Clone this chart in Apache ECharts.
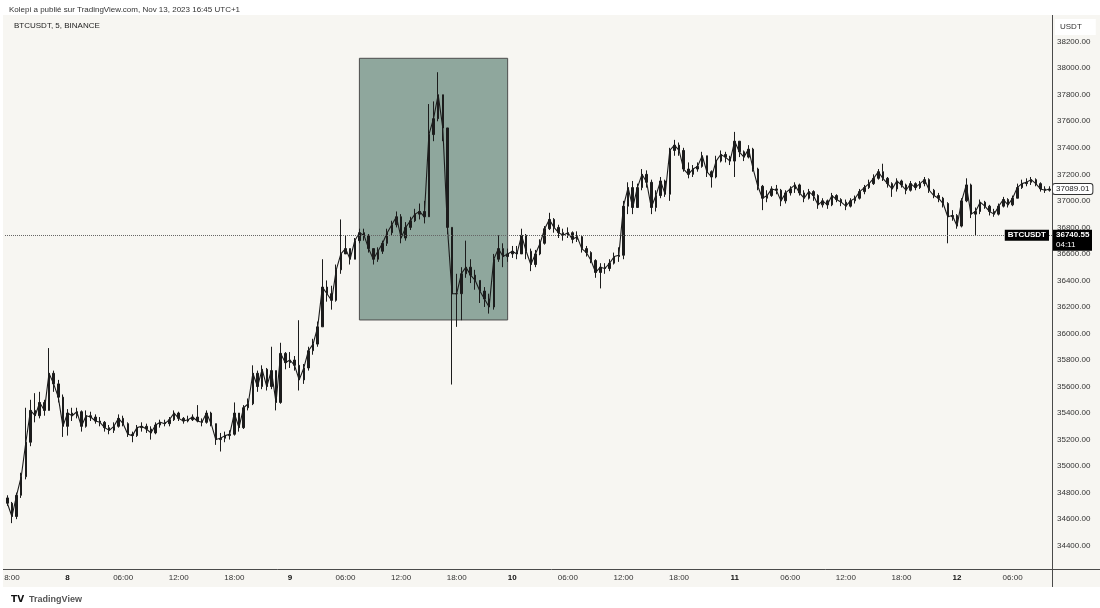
<!DOCTYPE html>
<html>
<head>
<meta charset="utf-8">
<script src="https://cdn.jsdelivr.net/npm/echarts@6/dist/echarts.min.js"></script>
<style>
  html, body { margin: 0; padding: 0; background: #ffffff; }
  #chart { width: 1100px; height: 608px; }
</style>
</head>
<body>
<div id="chart"></div>
<script>
// ---- Data (BTCUSDT, 30-min candles) ----
const firstTime = '2023-11-07 17:30';   // first candle (UTC+1 chart time)
const stepMinutes = 30;
const firstOpen = 34760;

const closes = [
  34720, 34620, 34780, 34920, 35180, 35420, 35380, 35480, 35420, 35700,
  35620, 35520, 35300, 35400, 35380, 35410, 35300, 35380, 35370, 35340,
  35330, 35290, 35270, 35300, 35360, 35320, 35240, 35230, 35290, 35300,
  35280, 35250, 35310, 35330, 35320, 35350, 35400, 35360, 35340, 35350,
  35370, 35340, 35330, 35400, 35320, 35200, 35210, 35230, 35240, 35400,
  35290, 35440, 35470, 35700, 35600, 35730, 35600, 35720, 35480, 35850,
  35780, 35800, 35760, 35650, 35740, 35870, 35920, 36050, 36350, 36300,
  36250, 36480, 36600, 36640, 36560, 36700, 36760, 36740, 36640, 36560,
  36620, 36680, 36760, 36820, 36880, 36720, 36800, 36850, 36900, 36920,
  36880, 37500, 37620, 37800, 37550, 36800, 36300, 36300, 36450, 36500,
  36440, 36400, 36320, 36260, 36200, 36560, 36640, 36580, 36600, 36620,
  36600, 36740, 36620, 36520, 36600, 36680, 36790, 36860, 36800, 36760,
  36740, 36760, 36710, 36730, 36640, 36610, 36550, 36460, 36500, 36490,
  36530, 36580, 36590, 36960, 37100, 36950, 37100, 37200, 37140, 36950,
  37040, 37150, 37050, 37380, 37420, 37380, 37240, 37200, 37240, 37260,
  37340, 37220, 37180, 37300, 37350, 37330, 37300, 37450, 37370, 37330,
  37390, 37240, 37110, 37020, 37040, 37090, 37080, 37000, 37060, 37090,
  37120, 37060, 37020, 37070, 37040, 36970, 37000, 36970, 37040, 37010,
  36990, 36960, 37000, 37020, 37070, 37100, 37130, 37170, 37220, 37170,
  37130, 37090, 37150, 37120, 37080, 37130, 37100, 37130, 37160, 37080,
  37040, 37020, 36980, 36880, 36890, 36810, 37000, 37120, 36900, 36920,
  36990, 36960, 36920, 36900, 36960, 37010, 36970, 37020, 37100, 37130,
  37140, 37160, 37130, 37090, 37080, 37089.01
];

const highs = [
  34780, 34730, 34800, 34950, 35440, 35500, 35550, 35560, 35500, 35890,
  35720, 35650, 35540, 35430, 35440, 35440, 35420, 35420, 35410, 35390,
  35370, 35340, 35310, 35330, 35390, 35380, 35330, 35260, 35310, 35330,
  35320, 35300, 35330, 35350, 35350, 35370, 35420, 35410, 35370, 35380,
  35390, 35460, 35360, 35420, 35410, 35320, 35250, 35260, 35270, 35480,
  35400, 35460, 35510, 35760, 35720, 35760, 35740, 35900, 35720, 35930,
  35860, 35860, 35830, 36100, 35770, 35900, 35960, 36090, 36560, 36400,
  36360, 36520, 36860, 36740, 36640, 36720, 36790, 36790, 36750, 36640,
  36650, 36700, 36790, 36850, 36920, 36900, 36840, 36880, 36940, 36980,
  37000, 37730, 37750, 37970, 37800, 37550, 36800, 36450, 36500, 36700,
  36560, 36480, 36400, 36350, 36300, 36600, 36740, 36680, 36640, 36660,
  36660, 36790, 36750, 36640, 36630, 36710, 36810, 36910, 36870, 36820,
  36790, 36800, 36770, 36770, 36740, 36660, 36620, 36560, 36530, 36530,
  36560, 36610, 36650, 37000, 37140, 37150, 37130, 37240, 37230, 37160,
  37080, 37180, 37160, 37400, 37460, 37440, 37400, 37290, 37270, 37290,
  37370, 37340, 37230, 37340, 37380, 37370, 37340, 37520, 37450, 37380,
  37420, 37400, 37250, 37120, 37080, 37110, 37120, 37090, 37080, 37110,
  37140, 37130, 37080, 37090, 37080, 37050, 37020, 37010, 37060, 37050,
  37020, 37010, 37020, 37040, 37090, 37120, 37160, 37200, 37240, 37280,
  37180, 37140, 37170, 37160, 37130, 37150, 37140, 37150, 37180, 37170,
  37090, 37060, 37030, 36990, 36930, 36900, 37020, 37170, 37130, 36950,
  37010, 37000, 36970, 36940, 36980, 37030, 37020, 37040, 37130, 37160,
  37170, 37180, 37170, 37140, 37110, 37110
];

const lows = [
  34700, 34570, 34600, 34760, 34900, 35150, 35330, 35360, 35380, 35420,
  35560, 35480, 35220, 35230, 35340, 35360, 35260, 35290, 35340, 35320,
  35300, 35260, 35240, 35250, 35290, 35300, 35220, 35180, 35220, 35260,
  35250, 35200, 35240, 35290, 35300, 35300, 35340, 35340, 35320, 35330,
  35340, 35330, 35300, 35320, 35300, 35160, 35110, 35180, 35200, 35230,
  35260, 35280, 35420, 35460, 35560, 35580, 35570, 35580, 35420, 35470,
  35730, 35740, 35720, 35570, 35620, 35720, 35840, 35900, 36050, 36240,
  36180, 36240, 36450, 36600, 36520, 36560, 36680, 36700, 36610, 36520,
  36540, 36600, 36660, 36740, 36800, 36680, 36700, 36780, 36840, 36860,
  36830, 36880, 37450, 37600, 37450, 36750, 35615, 36050, 36100, 36420,
  36380, 36330, 36230, 36200, 36150, 36180, 36540, 36500, 36540, 36570,
  36560, 36600, 36560, 36470, 36500, 36590, 36670, 36780, 36760, 36720,
  36700, 36720, 36680, 36690, 36610, 36580, 36530, 36420, 36340, 36450,
  36470, 36520, 36540, 36560, 36900, 36900, 36950, 37080, 37100, 36900,
  36920, 37020, 37030, 37000, 37340, 37340, 37220, 37170, 37180, 37220,
  37250, 37180, 37100, 37170, 37290, 37290, 37270, 37180, 37330, 37300,
  37320, 37220, 37080, 36930, 36990, 37030, 37050, 36960, 36980, 37040,
  37060, 37040, 36990, 37010, 37000, 36940, 36950, 36940, 36960, 36990,
  36960, 36930, 36950, 36980, 37010, 37050, 37090, 37120, 37160, 37150,
  37100, 37030, 37070, 37100, 37050, 37070, 37080, 37090, 37110, 37060,
  37020, 36990, 36950, 36680, 36850, 36790, 36800, 36990, 36870, 36740,
  36900, 36940, 36890, 36880, 36890, 36950, 36950, 36960, 37020, 37090,
  37110, 37120, 37110, 37070, 37060, 37070
];

// x tick positions (chart time) and their labels as shown
const xTickTimes = [
  '11-07 18:00', '11-08 00:00', '11-08 06:00', '11-08 12:00', '11-08 18:00',
  '11-09 00:00', '11-09 06:00', '11-09 12:00', '11-09 18:00',
  '11-10 00:00', '11-10 06:00', '11-10 12:00', '11-10 18:00',
  '11-11 00:00', '11-11 06:00', '11-11 12:00', '11-11 18:00',
  '11-12 00:00', '11-12 06:00'
];
const xTickLabels = [
  '8:00', '8', '06:00', '12:00', '18:00',
  '9', '06:00', '12:00', '18:00',
  '10', '06:00', '12:00', '18:00',
  '11', '06:00', '12:00', '18:00',
  '12', '06:00'
];
const dayLabels = ['8', '9', '10', '11', '12'];

// y axis range / ticks
const yMin = 34200, yMax = 38400, yStep = 200;

// annotations
const boxStartTime = '11-09 07:30';
const boxEndTime = '11-09 23:30';
const boxTop = 38075;
const boxBottom = 36102;
const currentPrice = 36740.55;
const countdown = '04:11';
const countdownPriceRow = 36665;   // second row of the price tag (just under the price)
const symbolName = 'BTCUSDT';
const headerText = 'Kolepi a publié sur TradingView.com, Nov 13, 2023 16:45 UTC+1';
const legendText = 'BTCUSDT, 5, BINANCE';
const currencyText = 'USDT';

// ---- build ----
function pad(n) { return (n < 10 ? '0' : '') + n; }
const t0 = Date.UTC(2023, 10, 7, 17, 30);
const categories = closes.map((_, i) => {
  const d = new Date(t0 + i * stepMinutes * 60000);
  return pad(d.getUTCMonth() + 1) + '-' + pad(d.getUTCDate()) + ' ' + pad(d.getUTCHours()) + ':' + pad(d.getUTCMinutes());
});
const candles = closes.map((c, i) => [i === 0 ? firstOpen : closes[i - 1], c, lows[i], highs[i]]);
const tickLabelOf = {};
xTickTimes.forEach((t, i) => { tickLabelOf[t] = xTickLabels[i]; });
const lastClose = closes[closes.length - 1];

const FONT = "'Liberation Sans Narrow', 'Liberation Sans', Arial, sans-serif";
const INK = '#1c1c1c';
const CLEAR = 'rgba(0,0,0,0)';

const chart = echarts.init(document.getElementById('chart'), null, { renderer: 'canvas' });
chart.setOption({
  animation: false,
  backgroundColor: '#ffffff',
  textStyle: { fontFamily: FONT },
  graphic: [
    { type: 'rect', z: -10, silent: true, shape: { x: 3, y: 15, width: 1097, height: 572 }, style: { fill: '#f7f6f2' } },
    { type: 'line', z: 10, silent: true, shape: { x1: 1052.5, y1: 15, x2: 1052.5, y2: 587 }, style: { stroke: '#4a4a4a', lineWidth: 1 } },
    { type: 'line', z: 10, silent: true, shape: { x1: 3, y1: 569.5, x2: 1100, y2: 569.5 }, style: { stroke: '#4a4a4a', lineWidth: 1 } }
  ],
  title: [
    { text: headerText, left: 4, top: 1, textStyle: { fontSize: 8, fontWeight: 'normal', color: '#333', fontFamily: FONT } },
    { text: legendText, left: 9, top: 17, textStyle: { fontSize: 8, fontWeight: 'normal', color: '#222', fontFamily: FONT } },
    { text: currencyText, left: 1055, top: 19, backgroundColor: '#ffffff', padding: [4, 14, 4, 5],
      textStyle: { fontSize: 8, fontWeight: 'normal', color: '#333', fontFamily: FONT } },
    { text: '{logo|TV} {name|TradingView}', left: 6, top: 586,
      textStyle: { rich: {
        logo: { fontSize: 9, fontWeight: 'bold', color: '#111', fontFamily: 'DejaVu Sans' },
        name: { fontSize: 9, color: '#555', fontFamily: FONT }
      } } }
  ],
  grid: { left: 5, right: 48, top: 15.2, bottom: 35.8, containLabel: false },
  xAxis: {
    type: 'category',
    data: categories,
    boundaryGap: true,
    offset: -3,
    axisLine: { show: false },
    axisTick: { show: false },
    splitLine: { show: false },
    axisLabel: {
      interval: (idx, val) => tickLabelOf[val] !== undefined,
      formatter: (val) => {
        const lab = tickLabelOf[val];
        return dayLabels.indexOf(lab) >= 0 ? '{d|' + lab + '}' : lab;
      },
      color: '#333', fontSize: 8, margin: 5, fontFamily: FONT,
      rich: { d: { fontWeight: 'bold', color: '#111', fontSize: 8, fontFamily: FONT } }
    }
  },
  yAxis: {
    type: 'value',
    position: 'right',
    min: yMin, max: yMax, interval: yStep,
    axisLine: { show: false },
    axisTick: { show: false },
    splitLine: { show: false },
    axisLabel: {
      formatter: v => v.toFixed(2),
      color: '#333', fontSize: 8, margin: 5, fontFamily: FONT,
      showMinLabel: false, showMaxLabel: false
    }
  },
  series: [{
    type: 'line',
    data: closes,
    symbol: 'none',
    z: 2,
    lineStyle: { color: INK, width: 1.1 },
    silent: true
  }, {
    type: 'candlestick',
    data: candles,
    barWidth: 2,
    z: 3,
    itemStyle: { color: INK, color0: INK, borderColor: INK, borderColor0: INK, borderWidth: 1 },
    markArea: {
      silent: true,
      itemStyle: { color: '#8fa79d', borderColor: '#4d4d4d', borderWidth: 1 },
      data: [[{ xAxis: categories.find(c => c.endsWith(boxStartTime)), yAxis: boxTop },
              { xAxis: categories.find(c => c.endsWith(boxEndTime)), yAxis: boxBottom }]]
    },
    markLine: {
      silent: true,
      symbol: 'none',
      data: [
        { yAxis: currentPrice,
          lineStyle: { color: '#666', type: 'dotted', width: 1 },
          label: { show: true, position: 'end', distance: 1, formatter: currentPrice.toFixed(2),
                   backgroundColor: '#000', color: '#fff', fontSize: 8, fontWeight: 'bold',
                   width: 33, padding: [2, 3, 1, 3], fontFamily: FONT, align: 'left' } },
        { yAxis: countdownPriceRow,
          lineStyle: { color: CLEAR, width: 0 },
          label: { show: true, position: 'end', distance: 1, formatter: countdown,
                   backgroundColor: '#000', color: '#fff', fontSize: 8,
                   width: 33, padding: [1, 3, 2, 3], fontFamily: FONT, align: 'left' } },
        { yAxis: currentPrice,
          lineStyle: { color: CLEAR, width: 0 },
          label: { show: true, position: 'insideEnd', distance: 3, formatter: symbolName,
                   backgroundColor: '#000', color: '#fff', fontSize: 8, fontWeight: 'bold',
                   padding: [2, 3, 1, 3], fontFamily: FONT } },
        { yAxis: lastClose,
          lineStyle: { color: CLEAR, width: 0 },
          label: { show: true, position: 'end', distance: 1, formatter: lastClose.toFixed(2),
                   backgroundColor: '#fff', borderColor: '#333', borderWidth: 1, borderRadius: 2,
                   color: '#222', fontSize: 8, padding: [1, 3, 1, 3], fontFamily: FONT } }
      ]
    }
  }]
});
</script>
</body>
</html>
